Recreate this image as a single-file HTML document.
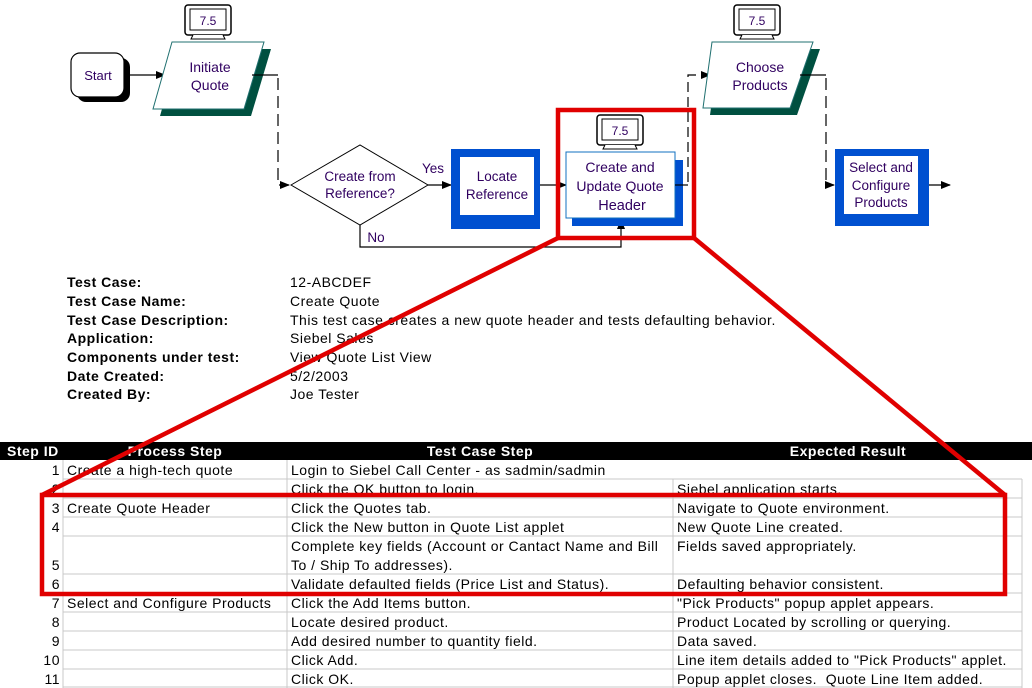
<!DOCTYPE html>
<html><head><meta charset="utf-8"><style>
html,body{margin:0;padding:0;background:#fff;}
svg{display:block;font-family:"Liberation Sans",Arial,sans-serif;}
.ls{letter-spacing:0.5px;}
</style></head><body>
<svg width="1032" height="688" viewBox="0 0 1032 688" xmlns="http://www.w3.org/2000/svg">
<defs>
<marker id="ar" markerWidth="10" markerHeight="8" refX="9" refY="4" orient="auto" markerUnits="userSpaceOnUse"><path d="M0,0 L10,4 L0,8 z" fill="#000"/></marker>
<g id="mon">
<rect x="0" y="0" width="46" height="30" rx="3" fill="#fff" stroke="#000" stroke-width="1.5"/>
<rect x="5" y="4" width="36" height="21" fill="#fff" stroke="#000" stroke-width="1"/>
<path d="M8,30 L6,34 L40,34 L38,30" fill="#fff" stroke="#000" stroke-width="1"/>
<text x="23" y="20" font-size="12" text-anchor="middle" fill="#300060">7.5</text>
</g>
</defs>

<rect x="77" y="58" width="53" height="44" rx="9" fill="#000"/>
<rect x="71" y="53" width="53" height="44" rx="9" fill="#fff" stroke="#000" stroke-width="1.2"/>
<text x="98" y="80" font-size="13" text-anchor="middle" fill="#300060">Start</text>
<line x1="124" y1="75" x2="165" y2="75" stroke="#000" stroke-width="1.2" marker-end="url(#ar)"/>

<use href="#mon" x="185" y="5"/>
<polygon points="179,49 271,49 251,116 160,116" fill="#005040"/>
<polygon points="172,42 264,42 244,109 153,109" fill="#fff" stroke="#207070" stroke-width="1"/>
<text x="210" y="72" font-size="14" text-anchor="middle" fill="#300060">Initiate</text>
<text x="210" y="90" font-size="14" text-anchor="middle" fill="#300060">Quote</text>
<polyline points="252,75 278,75" fill="none" stroke="#000" stroke-width="1.2"/>
<polyline points="278,78 278,185 289,185" fill="none" stroke="#000" stroke-width="1.2" stroke-dasharray="12,6" marker-end="url(#ar)"/>

<polygon points="291,185 360,145 428,185 360,225" fill="#fff" stroke="#000" stroke-width="1"/>
<text x="360" y="181" font-size="13.5" text-anchor="middle" fill="#300060">Create from</text>
<text x="360" y="198" font-size="13.5" text-anchor="middle" fill="#300060">Reference?</text>
<text x="433" y="173" font-size="13.5" text-anchor="middle" fill="#300060">Yes</text>
<line x1="428" y1="185" x2="451" y2="185" stroke="#000" stroke-width="1.2" marker-end="url(#ar)"/>
<text x="376" y="242" font-size="13.5" text-anchor="middle" fill="#300060">No</text>
<polyline points="360,225 360,247 621,247 621,220" fill="none" stroke="#000" stroke-width="1.2" marker-end="url(#ar)"/>

<rect x="451" y="149" width="89" height="80" fill="#0050d0"/>
<rect x="460" y="157" width="74" height="58" fill="#fff"/>
<text x="497" y="181" font-size="13.5" text-anchor="middle" fill="#300060">Locate</text>
<text x="497" y="199" font-size="13.5" text-anchor="middle" fill="#300060">Reference</text>
<line x1="540" y1="185" x2="566" y2="185" stroke="#000" stroke-width="1.2" marker-end="url(#ar)"/>

<use href="#mon" x="597" y="115"/>
<rect x="572" y="160" width="111" height="66" fill="#0050d0"/>
<rect x="566" y="152" width="109" height="66" fill="#fff" stroke="#1070c0" stroke-width="1"/>
<text x="620" y="172" font-size="14" text-anchor="middle" fill="#300060">Create and</text>
<text x="620" y="191" font-size="14" text-anchor="middle" fill="#300060">Update Quote</text>
<text x="622" y="210" font-size="14.5" text-anchor="middle" fill="#300060">Header</text>
<polyline points="675,185 688,185" fill="none" stroke="#000" stroke-width="1.2"/>
<polyline points="688,182 688,75 710,75" fill="none" stroke="#000" stroke-width="1.2" stroke-dasharray="10,5" marker-end="url(#ar)"/>

<use href="#mon" x="734" y="5"/>
<polygon points="719,49 820,49 797,115 710,115" fill="#005040"/>
<polygon points="712,42 813,42 790,108 703,108" fill="#fff" stroke="#207070" stroke-width="1"/>
<text x="760" y="72" font-size="14" text-anchor="middle" fill="#300060">Choose</text>
<text x="760" y="90" font-size="14" text-anchor="middle" fill="#300060">Products</text>
<polyline points="800,75 826,75" fill="none" stroke="#000" stroke-width="1.2"/>
<polyline points="826,78 826,185 834,185" fill="none" stroke="#000" stroke-width="1.2" stroke-dasharray="12,6" marker-end="url(#ar)"/>

<rect x="835" y="149" width="94" height="77" fill="#0050d0"/>
<rect x="844" y="156" width="74" height="58" fill="#fff"/>
<text x="881" y="172" font-size="13.5" text-anchor="middle" fill="#300060">Select and</text>
<text x="881" y="190" font-size="13.5" text-anchor="middle" fill="#300060">Configure</text>
<text x="881" y="207" font-size="13.5" text-anchor="middle" fill="#300060">Products</text>
<line x1="929" y1="185" x2="950" y2="185" stroke="#000" stroke-width="1.2" marker-end="url(#ar)"/>

<g font-size="14" fill="#000" class="ls">
<g font-weight="bold">
<text x="67" y="287">Test Case:</text>
<text x="67" y="306">Test Case Name:</text>
<text x="67" y="325">Test Case Description:</text>
<text x="67" y="343">Application:</text>
<text x="67" y="362">Components under test:</text>
<text x="67" y="381">Date Created:</text>
<text x="67" y="399">Created By:</text>
</g>
<text x="290" y="287">12-ABCDEF</text>
<text x="290" y="306">Create Quote</text>
<text x="290" y="325">This test case creates a new quote header and tests defaulting behavior.</text>
<text x="290" y="343">Siebel Sales</text>
<text x="290" y="362">View Quote List View</text>
<text x="290" y="381">5/2/2003</text>
<text x="290" y="399">Joe Tester</text>
</g>

<rect x="0" y="442" width="1032" height="18" fill="#000"/>
<g font-size="14" font-weight="bold" fill="#fff" class="ls">
<text x="7" y="456">Step ID</text>
<text x="175" y="456" text-anchor="middle">Process Step</text>
<text x="480" y="456" text-anchor="middle">Test Case Step</text>
<text x="848" y="456" text-anchor="middle">Expected Result</text>
</g>
<g stroke="#c8c8c8" stroke-width="1">
<line x1="63" y1="479" x2="1022" y2="479"/>
<line x1="63" y1="498" x2="1022" y2="498"/>
<line x1="63" y1="517" x2="1022" y2="517"/>
<line x1="63" y1="536" x2="1022" y2="536"/>
<line x1="63" y1="574" x2="1022" y2="574"/>
<line x1="63" y1="593" x2="1022" y2="593"/>
<line x1="63" y1="612" x2="1022" y2="612"/>
<line x1="63" y1="631" x2="1022" y2="631"/>
<line x1="63" y1="650" x2="1022" y2="650"/>
<line x1="63" y1="669" x2="1022" y2="669"/>
<line x1="63" y1="687" x2="1022" y2="687"/>
<line x1="63" y1="460" x2="63" y2="688"/>
<line x1="287" y1="460" x2="287" y2="688"/>
<line x1="673" y1="479" x2="673" y2="688"/>
<line x1="1022" y1="479" x2="1022" y2="688"/>
</g>
<g font-size="14" fill="#000" class="ls">
<g text-anchor="end">
<text x="60" y="475">1</text><text x="60" y="494">2</text><text x="60" y="513">3</text><text x="60" y="532">4</text>
<text x="60" y="570">5</text><text x="60" y="589">6</text><text x="60" y="608">7</text><text x="60" y="627">8</text>
<text x="60" y="646">9</text><text x="60" y="665">10</text><text x="60" y="684">11</text>
</g>
<text x="67" y="475">Create a high-tech quote</text>
<text x="67" y="513">Create Quote Header</text>
<text x="67" y="608">Select and Configure Products</text>
<text x="291" y="475">Login to Siebel Call Center - as sadmin/sadmin</text>
<text x="291" y="494">Click the OK button to login.</text>
<text x="291" y="513">Click the Quotes tab.</text>
<text x="291" y="532">Click the New button in Quote List applet</text>
<text x="291" y="551">Complete key fields (Account or Cantact Name and Bill</text>
<text x="291" y="570">To / Ship To addresses).</text>
<text x="291" y="589">Validate defaulted fields (Price List and Status).</text>
<text x="291" y="608">Click the Add Items button.</text>
<text x="291" y="627">Locate desired product.</text>
<text x="291" y="646">Add desired number to quantity field.</text>
<text x="291" y="665">Click Add.</text>
<text x="291" y="684">Click OK.</text>
<text x="677" y="494">Siebel application starts.</text>
<text x="677" y="513">Navigate to Quote environment.</text>
<text x="677" y="532">New Quote Line created.</text>
<text x="677" y="551">Fields saved appropriately.</text>
<text x="677" y="589">Defaulting behavior consistent.</text>
<text x="677" y="608">"Pick Products" popup applet appears.</text>
<text x="677" y="627">Product Located by scrolling or querying.</text>
<text x="677" y="646">Data saved.</text>
<text x="677" y="665">Line item details added to "Pick Products" applet.</text>
<text x="677" y="684">Popup applet closes.&#160; Quote Line Item added.</text>
</g>

<g stroke="#e00000" stroke-width="4.5" fill="none" stroke-linejoin="miter">
<rect x="558" y="110" width="136" height="128"/>
<rect x="42" y="495" width="963" height="99"/>
<line x1="558" y1="238" x2="42" y2="495"/>
<line x1="694" y1="238" x2="1005" y2="495"/>
</g>
</svg>
</body></html>
